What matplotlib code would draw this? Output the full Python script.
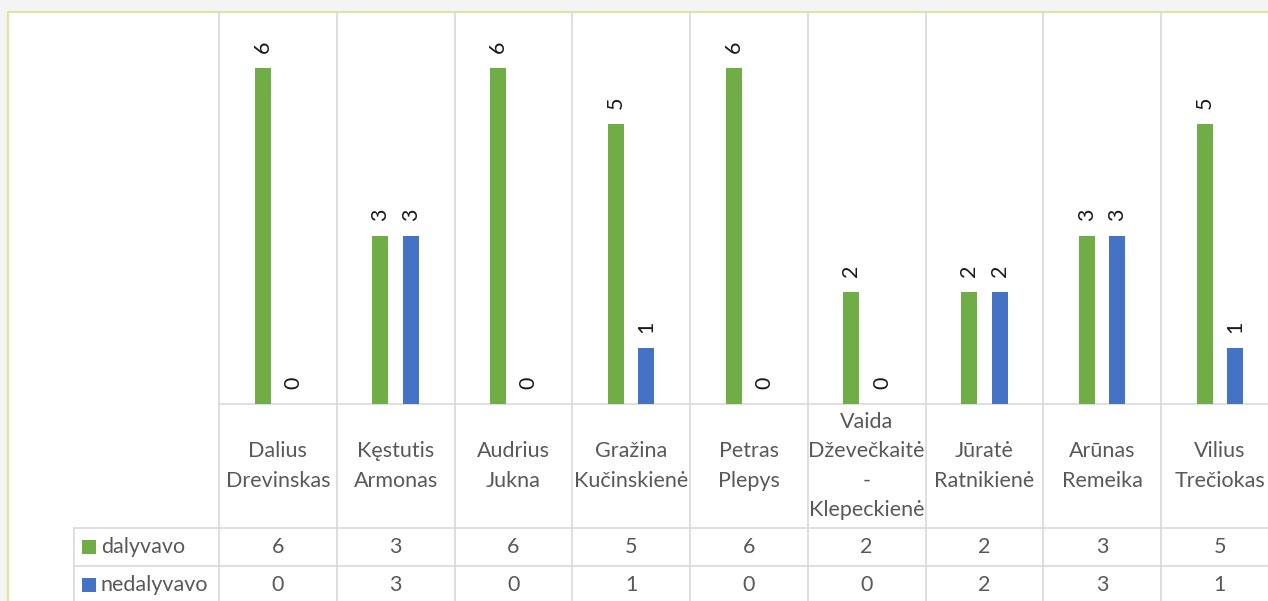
import matplotlib
matplotlib.use("Agg")
import matplotlib.pyplot as plt
from matplotlib.transforms import blended_transform_factory
from matplotlib.patches import Rectangle
from matplotlib.lines import Line2D

plt.rcParams['font.family'] = ['Lato', 'DejaVu Sans']

categories = ["Dalius\nDrevinskas", "Kęstutis\nArmonas", "Audrius\nJukna",
              "Gražina\nKučinskienė", "Petras\nPlepys",
              "Vaida\nDževečkaitė\n-\nKlepeckienė", "Jūratė\nRatnikienė",
              "Arūnas\nRemeika", "Vilius\nTrečiokas"]
series_names = ["dalyvavo", "nedalyvavo"]
dalyvavo = [6, 3, 6, 5, 6, 2, 2, 3, 5]
nedalyvavo = [0, 3, 0, 1, 0, 0, 2, 3, 1]
colors = ["#70AD47", "#4472C4"]

W, H = 1268, 601
fig = plt.figure(figsize=(W / 100, H / 100), dpi=100)
fig.patch.set_facecolor("#f4f4f4")

def fx(px):
    return px / W

def fy(py):
    return 1 - py / H

# chart frame
fig.patches.append(Rectangle((fx(8), -0.2), 1.2, fy(12) + 0.2, transform=fig.transFigure,
                             facecolor="white", edgecolor="#dedd8c", linewidth=1.2,
                             zorder=-5))

col_w = 117.75
n = len(categories)
ax = fig.add_axes([fx(219), fy(404), n * col_w / W, (404 - 12) / H])
ax.set_zorder(2)
ax.set_xlim(-0.5, n - 0.5)
ax.set_ylim(0, 7)
ax.patch.set_alpha(0)
for s in ax.spines.values():
    s.set_visible(False)
ax.set_xticks([])
ax.set_yticks([])

text_col = "#595959"
grid_col = "#d9d9d9"
fs = 15.5

bw = 0.137
off = 0.13
x = list(range(n))
for vals, c, o in zip([dalyvavo, nedalyvavo], colors, [-off, off]):
    ax.bar([i + o for i in x], vals, width=bw, color=c, zorder=3)
    for xi, v in zip(x, vals):
        ax.annotate(str(v), (xi + o, v), xytext=(0, 11), textcoords="offset points",
                    rotation=90, ha="center", va="bottom", fontsize=fs,
                    color="#1a1a1a", annotation_clip=False)

tr = blended_transform_factory(ax.transData, fig.transFigure)

# vertical table / grid lines
for i in range(n + 1):
    fig.lines.append(Line2D([i - 0.5, i - 0.5], [fy(12), 0], transform=tr,
                            color=grid_col, linewidth=1.2, zorder=1))
# horizontal lines
fig.lines.append(Line2D([-0.5, n], [fy(404), fy(404)], transform=tr,
                        color=grid_col, linewidth=1.2, zorder=1))
for yy in [528, 566]:
    fig.lines.append(Line2D([fx(74), 1.2], [fy(yy), fy(yy)], transform=fig.transFigure,
                            color=grid_col, linewidth=1.2, zorder=1))
fig.lines.append(Line2D([fx(74), fx(74)], [fy(528), 0], transform=fig.transFigure,
                        color=grid_col, linewidth=1.2, zorder=1))

# category labels
for i, c in enumerate(categories):
    fig.text(i, fy(466), c, transform=tr, ha="center", va="center",
             fontsize=fs, color=text_col, linespacing=1.58)

# value rows
row_y = [547, 585]
for vals, ry, name, c in zip([dalyvavo, nedalyvavo], row_y, series_names, colors):
    for i, v in enumerate(vals):
        fig.text(i, fy(ry), str(v), transform=tr, ha="center", va="center",
                 fontsize=fs, color=text_col)
    fig.patches.append(Rectangle((fx(82), fy(ry + 7)), fx(14), 14 / H,
                                 transform=fig.transFigure, facecolor=c,
                                 edgecolor="none"))
    fig.text(fx(101), fy(ry), name, ha="left", va="center", fontsize=fs,
             color=text_col)

fig.savefig("out.png", dpi=100, facecolor=fig.get_facecolor())
